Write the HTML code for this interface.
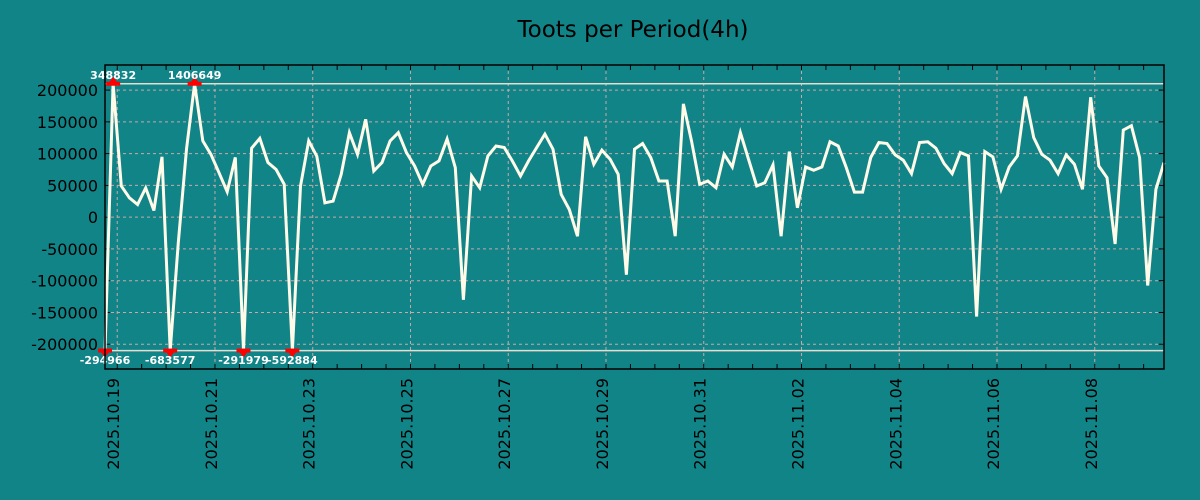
<!DOCTYPE html>
<html><head><meta charset="utf-8">
<style>
html,body{margin:0;padding:0;background:#118488;}
svg{display:block;}
text{font-family:"DejaVu Sans","Liberation Sans",sans-serif;}
</style></head>
<body>
<svg id="chart" width="1200" height="500" xmlns="http://www.w3.org/2000/svg">
<rect x="0" y="0" width="1200" height="500" fill="#118488"/>
<text x="633" y="37" font-size="23" text-anchor="middle" fill="#000">Toots per Period(4h)</text>
</svg>
<script>
// x in days relative to 2025.10.19 00:00, 4h periods starting at 2025.10.18 18:00
const startDay = -0.25;
const periodDays = 1/6;
const values = [-294966,348832,49000,30500,20000,46000,10500,95000,-683577,-40000,
107000,1406649,120000,99000,70000,40000,94000,-291979,108600,124000,
86000,75000,51700,-592884,49000,120000,96000,22600,25300,67500,
133000,99000,154000,72700,86000,120000,133000,101700,80600,51700,
80600,88500,122800,78000,-130000,64800,46300,96400,112000,109600,
88500,64800,88500,109600,130700,107000,35800,12100,-30000,126500,
83300,105400,91200,67500,-90600,107000,115900,93800,56900,56900,
-30000,178200,120000,51700,56900,46300,99000,79000,133000,91200,
49000,54200,82200,-30000,103200,14700,79000,73800,79000,118600,
112000,78000,39500,39500,93800,117500,116000,98000,89600,68500,
117500,118600,108600,84300,68500,101700,96400,-156500,103200,94900,
43800,79000,96400,189700,125400,99000,89600,68500,98000,83300,
43800,188600,80600,62100,-42200,137000,143900,93800,-107500,43800,85800];
const yTicks = [200000,150000,100000,50000,0,-50000,-100000,-150000,-200000];
const xTickDays = [0,2,4,6,8,10,12,14,16,18,20];
const xTickLabels = ["2025.10.19","2025.10.21","2025.10.23","2025.10.25","2025.10.27","2025.10.29","2025.10.31","2025.11.02","2025.11.04","2025.11.06","2025.11.08"];
const clipLimit = 210000;

const L=105,R=1164,T=65,B=369;
const yMin=-239000,yMax=239500;
const xMin=startDay,xMax=startDay+(values.length-1)*periodDays;
const sx=d=>L+(d-xMin)/(xMax-xMin)*(R-L);
const sy=v=>B-(v-yMin)/(yMax-yMin)*(B-T);
const svg=document.getElementById('chart');
const NS="http://www.w3.org/2000/svg";
function mk(tag,attrs,parent){const e=document.createElementNS(NS,tag);for(const k in attrs)e.setAttribute(k,attrs[k]);(parent||svg).appendChild(e);return e;}

yTicks.forEach(v=>{
  const g=mk('line',{x1:L,x2:R,y1:sy(v),y2:sy(v),stroke:'#c8a8a8','stroke-width':1,'stroke-dasharray':'3,3'});
  
  
  const t=mk('text',{x:98,y:sy(v)+6,'font-size':16,'text-anchor':'end',fill:'#000'});
  t.textContent=String(v);
  
  
  mk('line',{x1:L,x2:L+5,y1:sy(v),y2:sy(v),stroke:'#000'});
  mk('line',{x1:R-5,x2:R,y1:sy(v),y2:sy(v),stroke:'#000'});
});
xTickDays.forEach((d,i)=>{
  const x=sx(d);
  const g=mk('line',{x1:x,x2:x,y1:T,y2:B,stroke:'#c8a8a8','stroke-width':1,'stroke-dasharray':'3,3'});
  
  
  const t=mk('text',{x:0,y:0,'font-size':16,'text-anchor':'end',fill:'#000',transform:`translate(${x+2},378) rotate(-90)`});
  t.textContent=xTickLabels[i];
  
  
});
for(let d=0;d<=xMax;d+=0.5){
  const x=sx(d);
  mk('line',{x1:x,x2:x,y1:B,y2:B-5,stroke:'#000'});
  mk('line',{x1:x,x2:x,y1:T,y2:T+5,stroke:'#000'});
}
[clipLimit,-clipLimit].forEach(v=>{
  const c=mk('line',{x1:L,x2:R,y1:sy(v),y2:sy(v),stroke:'#e8dcd0','stroke-width':1.5});
  
  
});
const pts=values.map((v,i)=>{const c=Math.max(-clipLimit,Math.min(clipLimit,v));return sx(startDay+i*periodDays).toFixed(1)+','+sy(c).toFixed(1);});
const line=mk('polyline',{points:pts.join(' '),fill:'none',stroke:'#fffbe8','stroke-width':3,'stroke-linejoin':'miter'});


values.forEach((v,i)=>{
  if(Math.abs(v)<=clipLimit) return;
  const x=sx(startDay+i*periodDays);
  const up=v>0;
  const y=sy(up?clipLimit:-clipLimit);
  const g=mk('g',{});
  
  
  mk('rect',{x:x-7,y:y-2,width:14,height:4,fill:'#ff0000'},g);
  if(up) mk('polygon',{points:`${x-5},${y} ${x+5},${y} ${x},${y-7}`,fill:'#ff0000'},g);
  else mk('polygon',{points:`${x-5},${y} ${x+5},${y} ${x},${y+7}`,fill:'#ff0000'},g);
  const t=mk('text',{x:x,y:up?79:364,'font-size':11,'font-weight':'bold','text-anchor':'middle',fill:'#ffffff','font-family':'"Liberation Mono","DejaVu Sans Mono",monospace'},g);
  t.textContent=String(v);
});
const f=mk('rect',{x:L,y:T,width:R-L,height:B-T,fill:'none',stroke:'#000','stroke-width':1.5});


</script>
</body></html>
